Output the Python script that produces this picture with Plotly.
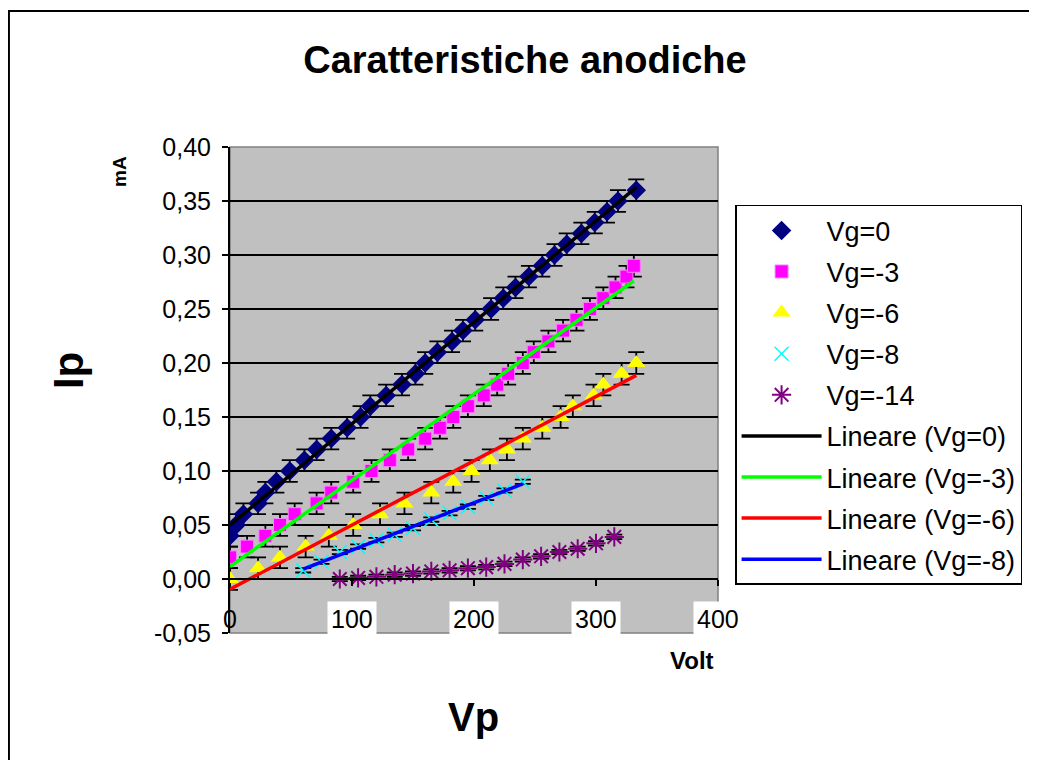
import numpy as np
import plotly.graph_objects as go

# Vp (Volt) / Ip (mA), one pair of lists per grid voltage
vg0_v = [0, 5, 11, 23, 29, 38, 49, 61, 71, 83, 96, 107, 115, 128, 141, 152, 160,
         170, 182, 191, 201, 214, 224, 234, 245, 256, 266, 276, 288, 299, 309, 318, 333]
vg0_i = [0.04, 0.05, 0.06, 0.07, 0.08, 0.09, 0.10, 0.11, 0.12, 0.13, 0.14, 0.15,
         0.16, 0.17, 0.18, 0.19, 0.20, 0.21, 0.22, 0.23, 0.24, 0.25, 0.26, 0.27,
         0.28, 0.29, 0.30, 0.31, 0.32, 0.33, 0.34, 0.35, 0.36]

vg3_v = [0, 14, 29, 41, 53, 71, 83, 101, 116, 131, 146, 160, 172, 183, 195, 208,
         219, 228, 240, 249, 261, 273, 284, 295, 306, 316, 325, 331]
vg3_i = [0.02, 0.03, 0.04, 0.05, 0.06, 0.07, 0.08, 0.09, 0.10, 0.11, 0.12, 0.13,
         0.14, 0.15, 0.16, 0.17, 0.18, 0.19, 0.20, 0.21, 0.22, 0.23, 0.24, 0.25,
         0.26, 0.27, 0.28, 0.29]

vg6_v = [0, 23, 41, 62, 81, 101, 123, 143, 165, 183, 198, 213, 227, 240, 256, 271,
         281, 298, 306, 321, 333]
vg6_i = [0.00, 0.01, 0.02, 0.03, 0.04, 0.05, 0.06, 0.07, 0.08, 0.09, 0.10, 0.11,
         0.12, 0.13, 0.14, 0.15, 0.16, 0.17, 0.18, 0.19, 0.20]

vg8_v = [60, 75, 90, 105, 120, 135, 150, 165, 180, 195, 210, 225, 240]
vg8_i = [0.008, 0.016, 0.025, 0.030, 0.036, 0.041, 0.047, 0.055, 0.061, 0.067,
         0.075, 0.082, 0.090]

vg14_v = [90, 105, 120, 135, 150, 165, 180, 195, 210, 225, 240, 255, 270, 285, 300, 315]
vg14_i = [0.000, 0.001, 0.002, 0.004, 0.005, 0.007, 0.008, 0.010, 0.011, 0.014,
          0.018, 0.021, 0.025, 0.028, 0.033, 0.039]

# measurement uncertainty (mA)
err_big = 0.01
err_small = 0.002

x_ticks = [0, 100, 200, 300, 400]
y_ticks = [-0.05, 0.00, 0.05, 0.10, 0.15, 0.20, 0.25, 0.30, 0.35, 0.40]
y_tick_text = ['-0,05', '0,00', '0,05', '0,10', '0,15', '0,20', '0,25', '0,30', '0,35', '0,40']

FONT = 'Arial, Liberation Sans, sans-serif'

series = [
    ('Vg=0', vg0_v, vg0_i, err_big,
     dict(symbol='diamond', size=15, color='#000080')),
    ('Vg=-3', vg3_v, vg3_i, err_big,
     dict(symbol='square', size=13, color='#FF00FF', line=dict(color='#FF80FF', width=1))),
    ('Vg=-6', vg6_v, vg6_i, err_big,
     dict(symbol='triangle-up', size=16, color='#FFFF00')),
    ('Vg=-8', vg8_v, vg8_i, err_small,
     dict(symbol='x-thin-open', size=14, color='#00FFFF', line=dict(color='#00FFFF', width=1.5))),
    ('Vg=-14', vg14_v, vg14_i, err_small,
     dict(symbol='asterisk-open', size=16, color='#800080', line=dict(color='#800080', width=2))),
]

fits = [
    ('Lineare (Vg=0)', vg0_v, vg0_i, '#000000'),
    ('Lineare (Vg=-3)', vg3_v, vg3_i, '#00FF00'),
    ('Lineare (Vg=-6)', vg6_v, vg6_i, '#FF0000'),
    ('Lineare (Vg=-8)', vg8_v, vg8_i, '#0000FF'),
]

fig = go.Figure()

for name, xs, ys, err, mk in series:
    fig.add_trace(go.Scatter(
        x=xs, y=ys, mode='markers', name=name, legendgroup=name,
        marker=mk,
        error_y=dict(type='constant', value=err, color='black', thickness=1.8, width=8),
    ))

# linear regression lines, drawn over the points like the spreadsheet trendlines
for name, xs, ys, col in fits:
    slope, icpt = np.polyfit(xs, ys, 1)
    xl = [min(xs), max(xs)]
    yl = [slope * v + icpt for v in xl]
    fig.add_trace(go.Scatter(
        x=xl, y=yl, mode='lines', name=name, legendgroup=name,
        line=dict(color=col, width=3.5),
    ))

# x labels sit in white boxes below the axis that crosses at y=0
annotations = []
for v in x_ticks:
    annotations.append(dict(
        x=v, y=-0.037, xref='x', yref='y', text=str(v), showarrow=False,
        xanchor='center', yanchor='middle',
        font=dict(family=FONT, size=25, color='black'),
        bgcolor='white' if v > 0 else 'rgba(0,0,0,0)', borderpad=3,
    ))

annotations += [
    dict(x=-0.332, y=0.541, xref='paper', yref='paper', text='<b>Ip</b>', textangle=-90,
         xanchor='center', yanchor='middle', showarrow=False,
         font=dict(family=FONT, size=42, color='black')),
    dict(x=-0.225, y=0.949, xref='paper', yref='paper', text='<b>mA</b>', textangle=-90,
         xanchor='center', yanchor='middle', showarrow=False,
         font=dict(family=FONT, size=19, color='black')),
    dict(x=0.498, y=-0.173, xref='paper', yref='paper', text='<b>Vp</b>',
         xanchor='center', yanchor='middle', showarrow=False,
         font=dict(family=FONT, size=40, color='black')),
    dict(x=0.947, y=-0.056, xref='paper', yref='paper', text='<b>Volt</b>',
         xanchor='center', yanchor='middle', showarrow=False,
         font=dict(family=FONT, size=24, color='black')),
]

# the page body keeps an 8px margin, so the figure is 8px smaller and shifted
fig.update_layout(
    width=1029, height=752,
    margin=dict(l=222, r=319, t=139, b=127, autoexpand=False),
    paper_bgcolor='white',
    plot_bgcolor='#C0C0C0',
    font=dict(family=FONT, color='black'),
    title=dict(text='<b>Caratteristiche anodiche</b>', x=0.5024, y=0.931,
               xanchor='center', yanchor='middle',
               font=dict(family=FONT, size=38, color='black')),
    showlegend=True,
    legend=dict(
        x=1.035, y=0.881, xref='paper', yref='paper', xanchor='left', yanchor='top',
        bgcolor='white', bordercolor='black', borderwidth=1.5,
        font=dict(family=FONT, size=27, color='black'),
        tracegroupgap=3, itemwidth=80,
    ),
    annotations=annotations,
    shapes=[
        # grey frame of the plot area
        dict(type='rect', xref='paper', yref='paper', x0=0, x1=1, y0=0, y1=1,
             line=dict(color='#808080', width=1.5), layer='between'),
        # outer chart border (runs off the right and bottom of the picture)
        dict(type='rect', xref='paper', yref='paper', x0=-0.453, x1=1.7, y0=-0.3, y1=1.280,
             line=dict(color='black', width=2), layer='above'),
    ],
)

fig.update_xaxes(
    range=[0, 400], anchor='free', position=0.05 / 0.45,
    showline=True, linecolor='black', linewidth=2,
    tickvals=x_ticks[1:], ticks='outside', ticklen=6, tickwidth=1.5, tickcolor='black',
    showticklabels=False, showgrid=False, zeroline=False,
)
fig.update_yaxes(
    range=[-0.05, 0.40], tickvals=y_ticks, ticktext=y_tick_text,
    showline=True, linecolor='black', linewidth=2,
    ticks='outside', ticklen=6, tickwidth=1.5, tickcolor='black',
    ticklabelstandoff=6,
    tickfont=dict(family=FONT, size=25, color='black'),
    showgrid=True, gridcolor='black', gridwidth=1.5, zeroline=False,
)

fig.write_html('out.html')
